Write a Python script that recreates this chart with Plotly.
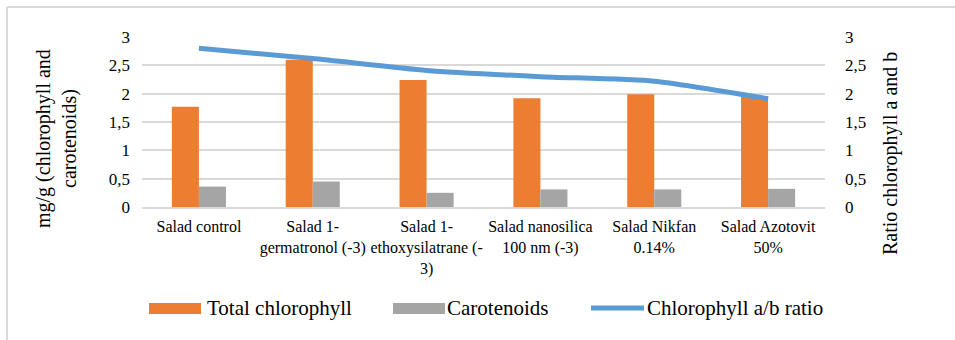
import plotly.graph_objects as go

categories = [
    "Salad control",
    "Salad 1-<br>germatronol (-3)",
    "Salad 1-<br>ethoxysilatrane (-<br>3)",
    "Salad nanosilica<br>100 nm (-3)",
    "Salad Nikfan<br>0.14%",
    "Salad Azotovit<br>50%",
]
total_chlorophyll = [1.77, 2.60, 2.24, 1.92, 1.99, 1.96]
carotenoids = [0.36, 0.45, 0.25, 0.31, 0.31, 0.32]
ab_ratio = [2.80, 2.62, 2.41, 2.30, 2.22, 1.91]

tick_vals = [0, 0.5, 1, 1.5, 2, 2.5, 3]
tick_text = ["0", "0,5", "1", "1,5", "2", "2,5", "3"]

series_names = ["Total chlorophyll", "Carotenoids", "Chlorophyll a/b ratio"]
colors = ["#ED7D31", "#A5A5A5", "#5B9BD5"]

FONT = "Liberation Serif"
W, H = 955, 340
L, R, T, B = 142, 130, 37, 133
PW, PH = W - L - R, H - T - B


def px(x):
    return (x - L) / PW


def py(y):
    return (H - B - y) / PH


fig = go.Figure()
fig.add_trace(go.Bar(x=categories, y=total_chlorophyll, name=series_names[0],
                     marker=dict(color=colors[0], line_width=0)))
fig.add_trace(go.Bar(x=categories, y=carotenoids, name=series_names[1],
                     marker=dict(color=colors[1], line_width=0)))
fig.add_trace(go.Scatter(x=categories, y=ab_ratio, name=series_names[2], yaxis="y2",
                         mode="lines", line=dict(color=colors[2], width=5, shape="spline",
                                                 smoothing=0.6)))

shapes = [
    dict(type="line", xref="paper", yref="paper", x0=px(7), x1=px(960), y0=py(7), y1=py(7),
         line=dict(color="#D9D9D9", width=2)),
    dict(type="line", xref="paper", yref="paper", x0=px(7), x1=px(7), y0=py(7), y1=py(345),
         line=dict(color="#D9D9D9", width=2)),
    dict(type="rect", xref="paper", yref="paper", x0=px(149), x1=px(201), y0=py(303), y1=py(314),
         fillcolor=colors[0], line_width=0),
    dict(type="rect", xref="paper", yref="paper", x0=px(393), x1=px(445), y0=py(303), y1=py(314),
         fillcolor=colors[1], line_width=0),
    dict(type="line", xref="paper", yref="paper", x0=px(591), x1=px(644), y0=py(308), y1=py(308),
         line=dict(color=colors[2], width=5)),
]

annotations = [
    dict(text="mg/g (chlorophyll and<br>carotenoids)", textangle=-90, xref="paper", yref="paper",
         x=px(56), y=py(139), showarrow=False, font=dict(size=20, color="#000", family=FONT),
         xanchor="center", yanchor="middle"),
    dict(text="Ratio chlorophyll a and b", textangle=-90, xref="paper", yref="paper",
         x=px(890), y=py(154), showarrow=False, font=dict(size=20, color="#000", family=FONT),
         xanchor="center", yanchor="middle"),
    dict(text=series_names[0], xref="paper", yref="paper", x=px(205), y=py(308), showarrow=False,
         xanchor="left", yanchor="middle", font=dict(size=21, color="#000", family=FONT)),
    dict(text=series_names[1], xref="paper", yref="paper", x=px(445), y=py(308), showarrow=False,
         xanchor="left", yanchor="middle", font=dict(size=21, color="#000", family=FONT)),
    dict(text=series_names[2], xref="paper", yref="paper", x=px(645), y=py(308), showarrow=False,
         xanchor="left", yanchor="middle", font=dict(size=21, color="#000", family=FONT)),
]

fig.update_layout(
    width=W, height=H,
    margin=dict(l=L, r=R, t=T, b=B, autoexpand=False),
    paper_bgcolor="white", plot_bgcolor="white",
    barmode="group", bargap=0.525, bargroupgap=0,
    showlegend=False,
    font=dict(family=FONT, color="#000"),
    xaxis=dict(showgrid=False, showline=True, linecolor="#D9D9D9", linewidth=2,
               tickfont=dict(size=16, family=FONT, color="#000"), ticks="", tickangle=0,
               ticklabelstandoff=4, fixedrange=True),
    yaxis=dict(range=[0, 3], tickvals=tick_vals, ticktext=tick_text, showgrid=True,
               gridcolor="#D9D9D9", gridwidth=2, zeroline=False, ticks="",
               tickfont=dict(size=17, family=FONT, color="#000"), ticklabelstandoff=11),
    yaxis2=dict(range=[0, 3], tickvals=tick_vals, ticktext=tick_text, overlaying="y",
                side="right", showgrid=False, zeroline=False, ticks="",
                tickfont=dict(size=17, family=FONT, color="#000"), ticklabelstandoff=19),
    shapes=shapes,
    annotations=annotations,
)

fig.write_html("out.html", config={"displayModeBar": False},
               post_script="document.body.style.margin='0';document.body.style.overflow='hidden';")
